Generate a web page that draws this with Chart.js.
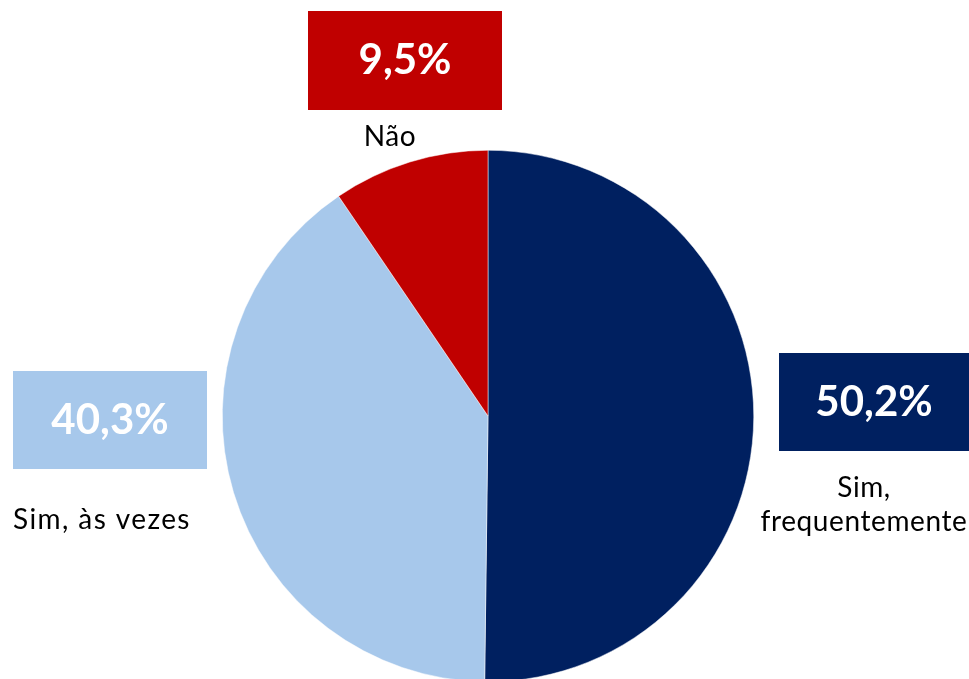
<!DOCTYPE html>
<html>
<head>
<meta charset="utf-8">
<script src="https://cdn.jsdelivr.net/npm/chart.js@4/dist/chart.umd.min.js"></script>
<style>
  html, body { margin: 0; padding: 0; background: #fff; overflow: hidden; }
  #wrap { position: relative; width: 969px; height: 690px; }
</style>
</head>
<body>
<div id="wrap"><canvas id="pieChart"></canvas></div>
<script>
// Dados do gráfico
const categorias = ['Sim, frequentemente', 'Sim, às vezes', 'Não'];
const valores = [50.2, 40.3, 9.5];
const cores = ['#002060', '#A7C8EB', '#C00000'];

// Caixas de rótulo (posição e texto de cada fatia)
const caixas = [
    { box: [779, 353, 190, 98], linhas: ['Sim,', 'frequentemente'], lx: 864, ly: [488, 522], align: 'center', esp: 0.6 },
    { box: [13, 371, 194, 98], linhas: ['Sim, às vezes'], lx: 13, ly: [520], align: 'left', esp: 1.4 },
    { box: [308, 11, 194, 99], linhas: ['Não'], lx: 390, ly: [137], align: 'center', esp: 0.6 }
];

const rotulos = {
    id: 'rotulos',
    afterDraw(chart) {
        const c = chart.ctx;
        c.save();
        caixas.forEach(function(cx, i) {
            const [x, y, w, h] = cx.box;
            c.fillStyle = cores[i];
            c.fillRect(x, y, w, h);
            c.fillStyle = '#ffffff';
            c.font = 'bold 42px Lato, "Open Sans", sans-serif';
            c.letterSpacing = '0px';
            c.textAlign = 'center';
            c.textBaseline = 'middle';
            c.fillText(valores[i].toFixed(1).replace('.', ',') + '%', x + w / 2, y + h / 2);
            c.fillStyle = '#000000';
            c.font = '28px Lato, "Open Sans", sans-serif';
            c.letterSpacing = cx.esp + 'px';
            c.textAlign = cx.align;
            cx.linhas.forEach(function(t, j) {
                c.fillText(t, cx.lx, cx.ly[j]);
            });
        });
        c.restore();
    }
};

const ctx = document.getElementById('pieChart').getContext('2d');
new Chart(ctx, {
    type: 'pie',
    data: {
        labels: categorias,
        datasets: [{
            data: valores,
            backgroundColor: cores,
            borderColor: '#ffffff',
            borderWidth: 0.5
        }]
    },
    options: {
        responsive: true,
        maintainAspectRatio: false,
        animation: false,
        layout: {
            padding: { top: 150, bottom: 8, left: 222, right: 215 }
        },
        plugins: {
            legend: { display: false },
            tooltip: { enabled: false }
        }
    },
    plugins: [rotulos]
});
</script>
</body>
</html>
